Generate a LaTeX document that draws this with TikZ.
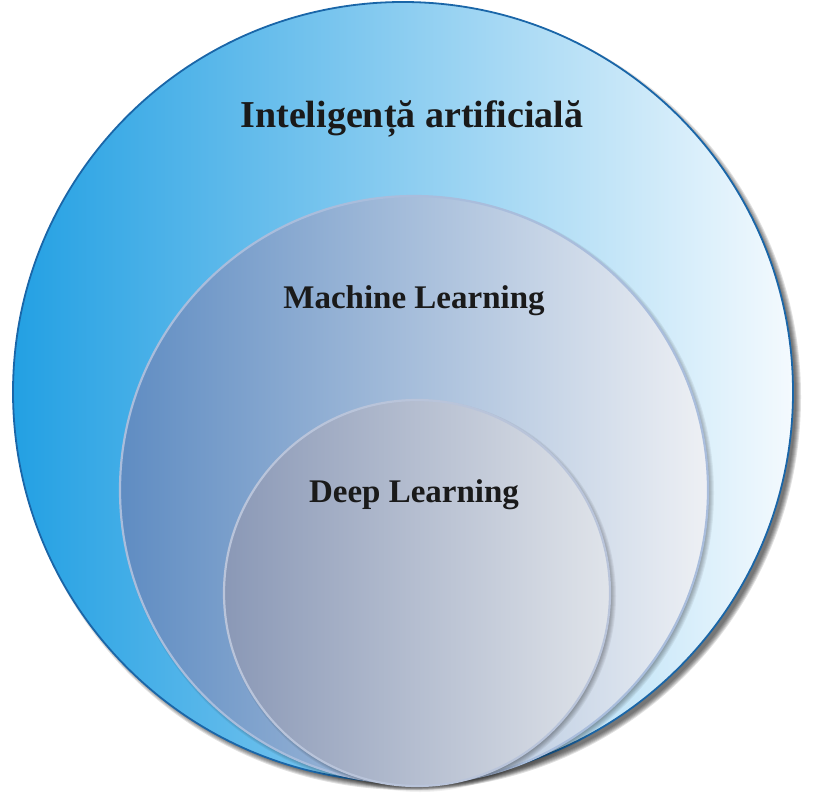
\documentclass[tikz,border=0pt]{standalone}
\usepackage{fontspec}
\setmainfont{Liberation Serif}
\definecolor{aiLeft}{HTML}{23A0E3}
\definecolor{aiRight}{HTML}{F4FAFE}
\definecolor{aiEdge}{HTML}{1A66A8}
\definecolor{mlLeft}{HTML}{5F8CC2}
\definecolor{mlRight}{HTML}{EEF0F4}
\definecolor{mlEdge}{HTML}{A9BDDC}
\definecolor{dlLeft}{HTML}{8A98B6}
\definecolor{dlRight}{HTML}{E0E4EA}
\definecolor{dlEdge}{HTML}{B9C4DA}
\definecolor{labelInk}{HTML}{1A1A1A}
\tikzset{
  ring/.style={shading=axis, shading angle=90},
  title/.style={text=labelInk, font=\bfseries},
  softshade/.style={fill=black, fill opacity=#1},
}
% soft drop shadow: stacked translucent discs, offset down and right
\newcommand{\discshadow}[5]{% centre x, centre y, radius, offset, strength
  \foreach \k in {0,...,5}{
    \fill[softshade=#5] (#1+#4,#2+#4) circle[radius=#3+3-\k];
  }
}
\begin{document}
\begin{tikzpicture}[x=1pt,y=-1pt]
  \useasboundingbox (0,0) rectangle (818,794);
  % outer field
  \discshadow{403}{392}{390}{5}{0.12}
  \path[ring, left color=aiLeft, right color=aiRight, draw=aiEdge, line width=1.8pt]
    (403,392) circle[radius=390];
  % middle field
  \discshadow{414}{490}{294}{3}{0.06}
  \path[ring, left color=mlLeft, right color=mlRight, draw=mlEdge, line width=2.2pt]
    (414,490) circle[radius=294];
  % inner field
  \discshadow{417}{593}{193}{3}{0.06}
  \path[ring, left color=dlLeft, right color=dlRight, draw=dlEdge, line width=2.2pt]
    (417,593) circle[radius=193];
  \node[title, font=\bfseries\fontsize{38}{42}\selectfont] (ai) at (412,119) {Inteligență artificială};
  \node[title, font=\bfseries\fontsize{33}{36}\selectfont] (ml) at (414,301) {Machine Learning};
  \node[title, font=\bfseries\fontsize{33}{36}\selectfont] (dl) at (414,495) {Deep Learning};
\end{tikzpicture}
\end{document}
